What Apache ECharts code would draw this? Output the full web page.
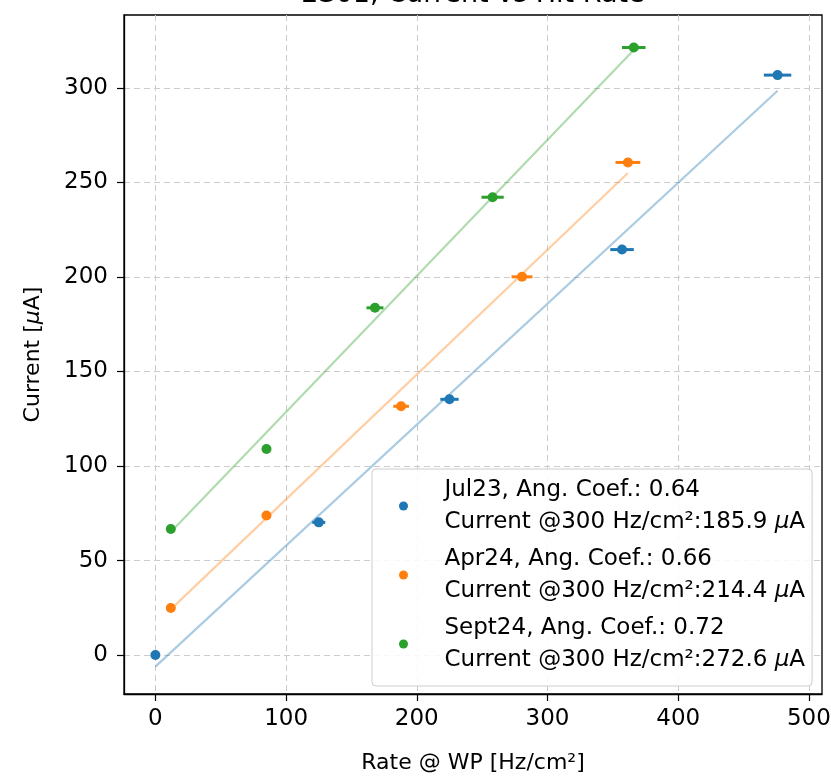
<!DOCTYPE html>
<html>
<head>
<meta charset="utf-8">
<script src="https://cdn.jsdelivr.net/npm/echarts@6/dist/echarts.min.js"></script>
<style>
  html, body { margin: 0; padding: 0; background: #fff; }
  #chart { width: 831px; height: 776px; }
</style>
</head>
<body>
<div id="chart"></div>
<script>
// Campaigns
const campaigns = ['Jul23', 'Apr24', 'Sept24'];
const colors = ['#1f77b4', '#ff7f0e', '#2ca02c'];

// Measured rate @ WP [Hz/cm2] and current [uA] per campaign
const rateJul23 = [0, 125, 225, 357, 476];
const currJul23 = [0, 70.2, 135.3, 214.5, 306.8];
const rateErrJul23 = [0.5, 5, 7, 9, 10.5];

const rateApr24 = [11.8, 85, 188, 280.5, 361.5];
const currApr24 = [24.9, 73.8, 131.6, 200.1, 260.6];
const rateErrApr24 = [0.5, 3, 6, 8, 9.5];

const rateSept24 = [11.8, 85, 168, 258, 366];
const currSept24 = [66.7, 109, 183.7, 242.2, 321.4];
const rateErrSept24 = [0.5, 3, 6.5, 8.5, 9];

const currErr = [1.5, 1.5, 1.5, 1.5, 1.5];

// Linear fit results: slope (Ang. Coef.) and current at 300 Hz/cm2
const slopes = [0.64, 0.66, 0.72];
const currAt300 = [185.9, 214.4, 272.6];

const xTicks = [0, 100, 200, 300, 400, 500];
const yTicks = [0, 50, 100, 150, 200, 250, 300];

const rates = [rateJul23, rateApr24, rateSept24];
const currents = [currJul23, currApr24, currSept24];
const rateErrs = [rateErrJul23, rateErrApr24, rateErrSept24];

const FONT = 'DejaVu Sans';

const chart = echarts.init(document.getElementById('chart'), null, { renderer: 'canvas' });

const series = [];
campaigns.forEach((name, i) => {
  // fitted straight line over the measured rate range
  const intercept = currAt300[i] - 300 * slopes[i];
  const x0 = Math.min(...rates[i]);
  const x1 = Math.max(...rates[i]);
  series.push({
    type: 'line',
    name: name + ' fit',
    data: [[x0, slopes[i] * x0 + intercept], [x1, slopes[i] * x1 + intercept]],
    showSymbol: false,
    symbol: 'none',
    lineStyle: { color: colors[i], width: 2.2, opacity: 0.38 },
    silent: true,
    z: 2
  });
  // error bars
  series.push({
    type: 'custom',
    name: name + ' err',
    data: rates[i].map((r, k) => [r, currents[i][k], rateErrs[i][k], currErr[k]]),
    renderItem: (params, api) => {
      const x = api.value(0), y = api.value(1), ex = api.value(2), ey = api.value(3);
      const l = api.coord([x - ex, y]);
      const r = api.coord([x + ex, y]);
      const b = api.coord([x, y - ey]);
      const t = api.coord([x, y + ey]);
      const st = { stroke: colors[i], lineWidth: 3 };
      return {
        type: 'group',
        children: [
          { type: 'line', shape: { x1: l[0], y1: l[1], x2: r[0], y2: r[1] }, style: st },
          { type: 'line', shape: { x1: b[0], y1: b[1], x2: t[0], y2: t[1] }, style: st }
        ]
      };
    },
    silent: true,
    z: 3
  });
  // measured points
  series.push({
    type: 'scatter',
    name: name,
    data: rates[i].map((r, k) => [r, currents[i][k]]),
    symbol: 'circle',
    symbolSize: 10,
    itemStyle: { color: colors[i], opacity: 1 },
    z: 4
  });
});

const legendText = {};
campaigns.forEach((name, i) => {
  legendText[name] = name + ', Ang. Coef.: ' + slopes[i].toFixed(2) +
    '\nCurrent @300 Hz/cm²:' + currAt300[i].toFixed(1) + ' {i|μ}A';
});

const option = {
  backgroundColor: '#ffffff',
  animation: false,
  textStyle: { fontFamily: FONT },
  graphic: [{
    type: 'text',
    x: 473,
    y: -19,
    style: {
      text: '2S01, Current vs Hit Rate',
      fontFamily: FONT,
      fontSize: 27,
      fill: '#000',
      textAlign: 'center',
      textVerticalAlign: 'top'
    },
    z: 10
  }],
  grid: {
    left: 124, right: 9, top: 15, bottom: 82,
    outerBoundsMode: 'none',
    containLabel: false,
    show: true,
    borderColor: '#000',
    borderWidth: 1.3,
    backgroundColor: 'transparent'
  },
  xAxis: {
    type: 'value',
    min: -24,
    max: 510,
    name: 'Rate @ WP [Hz/cm²]',
    nameLocation: 'middle',
    nameGap: 58,
    nameTextStyle: { fontFamily: FONT, fontSize: 22, color: '#000' },
    axisLine: { show: true, onZero: false, lineStyle: { color: '#000', width: 1.3 } },
    axisTick: { show: true, length: 7, inside: false, customValues: xTicks, lineStyle: { color: '#000', width: 1.2 } },
    axisLabel: { customValues: xTicks, fontFamily: FONT, fontSize: 23, color: '#000', margin: 14 },
    splitLine: { show: true, lineStyle: { color: '#cccccc', type: [6, 4], width: 1 } }
  },
  yAxis: {
    type: 'value',
    min: -20.6,
    max: 338.6,
    name: 'Current [{i|μ}A]',
    nameLocation: 'middle',
    nameRotate: 90,
    nameGap: 80,
    nameTextStyle: {
      fontFamily: FONT, fontSize: 22, color: '#000',
      rich: { i: { fontFamily: FONT, fontSize: 22, fontStyle: 'italic', color: '#000' } }
    },
    axisLine: { show: true, onZero: false, lineStyle: { color: '#000', width: 1.3 } },
    axisTick: { show: true, length: 7, inside: false, customValues: yTicks, lineStyle: { color: '#000', width: 1.2 } },
    axisLabel: { customValues: yTicks, fontFamily: FONT, fontSize: 23, color: '#000', margin: 16 },
    splitLine: { show: true, lineStyle: { color: '#cccccc', type: [6, 4], width: 1 } }
  },
  legend: {
    data: campaigns,
    orient: 'vertical',
    left: 372,
    top: 469,
    padding: [5, 7, 10, 27],
    itemGap: 5,
    itemWidth: 40,
    itemHeight: 9,
    icon: 'circle',
    backgroundColor: 'rgba(255,255,255,0.85)',
    borderColor: '#cccccc',
    borderWidth: 1,
    borderRadius: 4,
    selectedMode: false,
    formatter: (name) => legendText[name],
    textStyle: {
      fontFamily: FONT,
      fontSize: 23,
      lineHeight: 32,
      color: '#000',
      padding: [0, 0, 0, 16],
      rich: { i: { fontFamily: FONT, fontSize: 23, lineHeight: 32, fontStyle: 'italic', color: '#000' } }
    }
  },
  series: series
};

chart.setOption(option);
</script>
</body>
</html>
